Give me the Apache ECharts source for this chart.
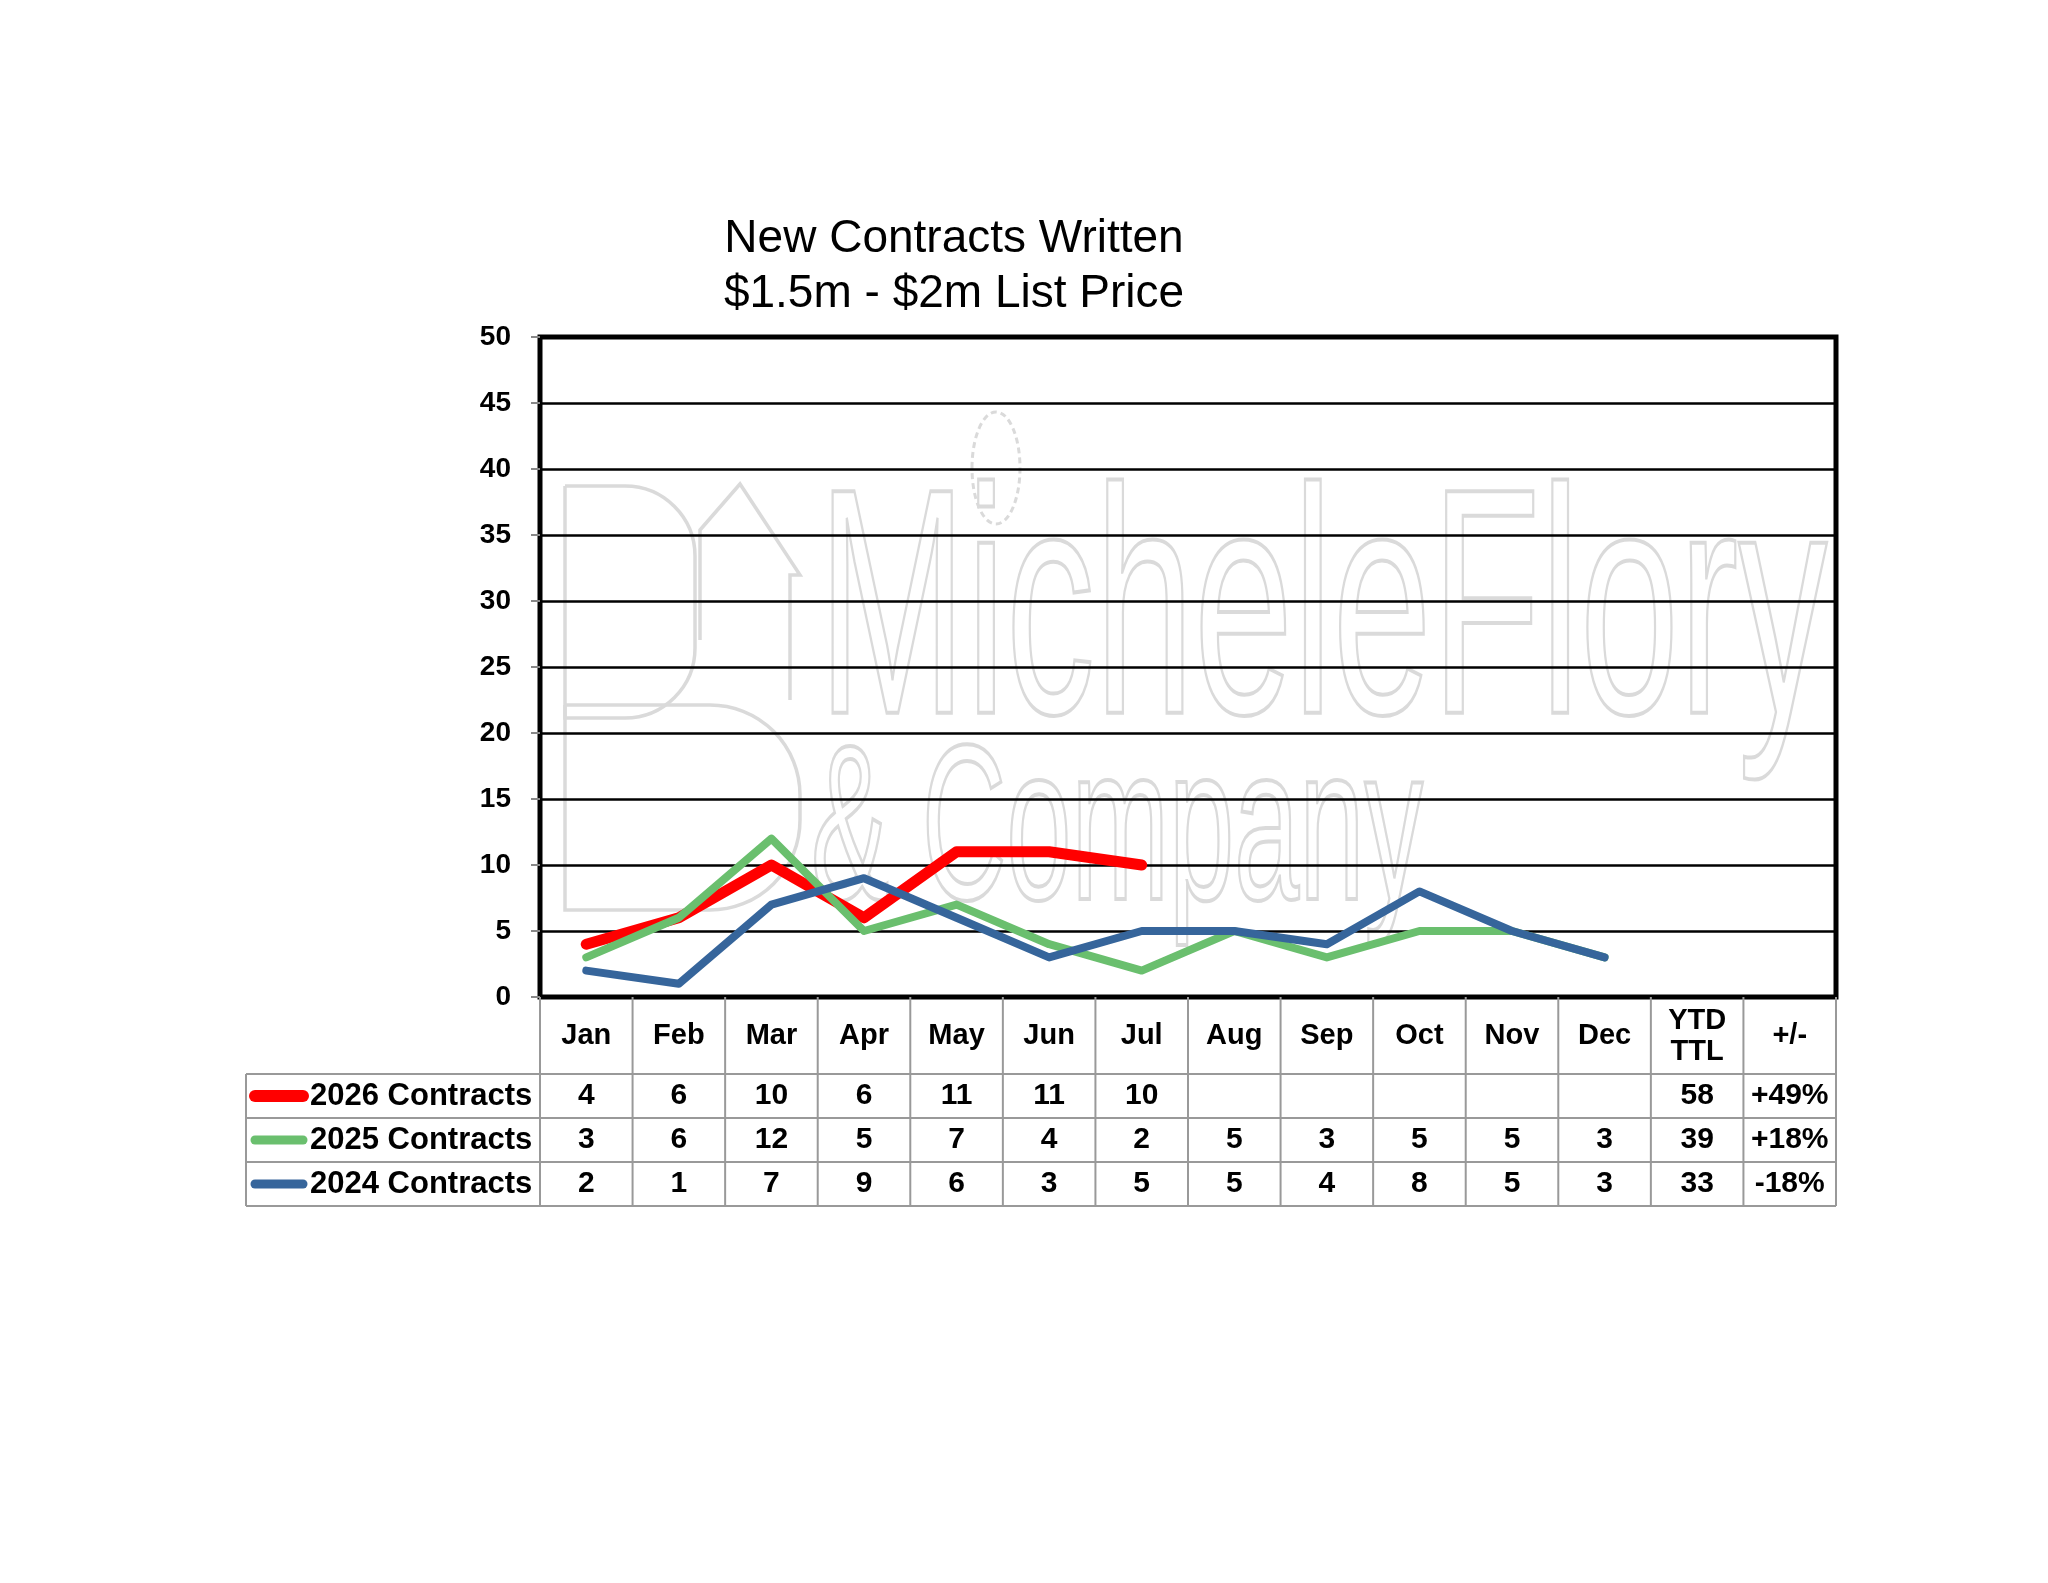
<!DOCTYPE html>
<html>
<head>
<meta charset="utf-8">
<script src="https://cdn.jsdelivr.net/npm/echarts@6/dist/echarts.min.js"></script>
<style>
html, body { margin: 0; padding: 0; background: #fff; }
#main { width: 2048px; height: 1583px; }
</style>
</head>
<body>
<div id="main"></div>
<script>
// 数据
var months = ['Jan', 'Feb', 'Mar', 'Apr', 'May', 'Jun', 'Jul', 'Aug', 'Sep', 'Oct', 'Nov', 'Dec', 'YTD\nTTL', '+/-'];
var seriesNames = ['2026 Contracts', '2025 Contracts', '2024 Contracts'];
var c2026 = [4, 6, 10, 6, 11, 11, 10];
var c2025 = [3, 6, 12, 5, 7, 4, 2, 5, 3, 5, 5, 3];
var c2024 = [2, 1, 7, 9, 6, 3, 5, 5, 4, 8, 5, 3];
var ytdTotals = [58, 39, 33];
var changes = ['+49%', '+18%', '-18%'];
var yMin = 0, yMax = 50, yStep = 5;

var colors = ['#ff0000', '#6abf6e', '#36659b'];
var widths = [11, 8, 8];
var font = '"Liberation Sans", Arial, sans-serif';

var myChart = echarts.init(document.getElementById('main'));

function lineSeries(i, data) {
    return {
        name: seriesNames[i],
        type: 'line',
        data: data,
        showSymbol: false,
        symbol: 'none',
        animation: false,
        lineStyle: { color: colors[i], width: widths[i], cap: 'round', join: 'round' },
        itemStyle: { color: colors[i] }
    };
}

var option = {
    backgroundColor: '#fff',
    animation: false,
    title: {
        text: 'New Contracts Written\n$1.5m - $2m List Price',
        left: 949,
        top: 207,
        textAlign: 'center',
        textStyle: { fontFamily: font, fontSize: 46, fontWeight: 'normal', color: '#000', lineHeight: 55 }
    },
    grid: {
        left: 540, right: 212, top: 337, height: 660,
        show: true, borderColor: '#000', borderWidth: 5, backgroundColor: 'transparent'
    },
    xAxis: {
        type: 'category',
        data: months,
        boundaryGap: true,
        axisLine: { show: false },
        axisTick: { show: false },
        axisLabel: {
            interval: 0, margin: 39, verticalAlign: 'middle',
            fontFamily: font, fontSize: 29, fontWeight: 'bold', color: '#000', lineHeight: 31
        }
    },
    yAxis: {
        type: 'value',
        min: yMin, max: yMax, interval: yStep,
        axisLine: { show: false },
        axisTick: { show: true, length: 9, lineStyle: { color: '#888', width: 2 } },
        axisLabel: { margin: 29, fontFamily: font, fontSize: 28, fontWeight: 'bold', color: '#000' },
        splitLine: { show: true, lineStyle: { color: '#000', width: 2.5 } }
    },
    series: [lineSeries(0, c2026), lineSeries(1, c2025), lineSeries(2, c2024)]
};
myChart.setOption(option);

// 表格（用坐标轴换算列位置）
var rowTop = 1074, rowH = 44, tableLeft = 246, headTop = 997;
var xs = months.map(function (m, i) { return myChart.convertToPixel({ xAxisIndex: 0 }, i); });
var colW = xs[1] - xs[0];
var tableRight = xs[xs.length - 1] + colW / 2;
var gridLine = { stroke: '#999', lineWidth: 2 };
var wm = { fill: 'rgba(0,0,0,0)', stroke: '#dadada', lineWidth: 3.5 };
var elems = [];

// 水印
elems.push({
    type: 'text', x: 818, y: 624, z: -5, scaleX: 0.553,
    style: { text: 'MicheleFlory', font: 'normal 322px ' + font, fill: wm.fill, stroke: wm.stroke, lineWidth: 4, textVerticalAlign: 'middle' }
});
elems.push({
    type: 'text', x: 811, y: 838, z: -5, scaleX: 0.53,
    style: { text: '& Company', font: 'normal 221px ' + font, fill: wm.fill, stroke: wm.stroke, lineWidth: 4, textVerticalAlign: 'middle' }
});
elems.push({ type: 'ellipse', z: -5, shape: { cx: 996, cy: 468, rx: 24, ry: 56 }, style: { fill: wm.fill, stroke: wm.stroke, lineWidth: 3, lineDash: [6, 4] } });
elems.push({ type: 'rect', z: -5, shape: { x: 565, y: 486, width: 130, height: 232, r: [0, 70, 70, 0] }, style: wm });
elems.push({ type: 'rect', z: -5, shape: { x: 565, y: 705, width: 235, height: 205, r: [0, 90, 90, 0] }, style: wm });
elems.push({ type: 'polyline', z: -5, shape: { points: [[700, 640], [700, 530], [740, 484], [800, 575], [790, 575], [790, 700]] }, style: wm });

// 横线
for (var r = 0; r <= seriesNames.length; r++) {
    var y = rowTop + r * rowH;
    elems.push({ type: 'line', z: 10, shape: { x1: tableLeft, y1: y, x2: tableRight, y2: y }, style: gridLine });
}
// 竖线
elems.push({ type: 'line', z: 10, shape: { x1: tableLeft, y1: rowTop, x2: tableLeft, y2: rowTop + 3 * rowH }, style: gridLine });
for (var c = 0; c <= months.length; c++) {
    var x = xs[0] - colW / 2 + c * colW;
    elems.push({ type: 'line', z: 10, shape: { x1: x, y1: headTop, x2: x, y2: rowTop + 3 * rowH }, style: gridLine });
}

var rows = [c2026, c2025, c2024];
rows.forEach(function (vals, r) {
    var cy = rowTop + r * rowH + rowH / 2;
    // 图例
    elems.push({ type: 'line', z: 10, shape: { x1: 255, y1: cy, x2: 303, y2: cy }, style: { stroke: colors[r], lineWidth: widths[r] + 1, lineCap: 'round' } });
    elems.push({
        type: 'text', z: 10, x: 310, y: cy,
        style: { text: seriesNames[r], font: 'bold 31px ' + font, fill: '#000', textAlign: 'left', textVerticalAlign: 'middle' }
    });
    var cells = vals.map(String);
    while (cells.length < 12) cells.push('');
    cells.push(String(ytdTotals[r]));
    cells.push(changes[r]);
    cells.forEach(function (t, c) {
        if (!t) return;
        elems.push({
            type: 'text', z: 10, x: xs[c], y: cy,
            style: { text: t, font: 'bold 30px ' + font, fill: '#000', textAlign: 'center', textVerticalAlign: 'middle' }
        });
    });
});

myChart.setOption({ graphic: { elements: elems } });
</script>
</body>
</html>
